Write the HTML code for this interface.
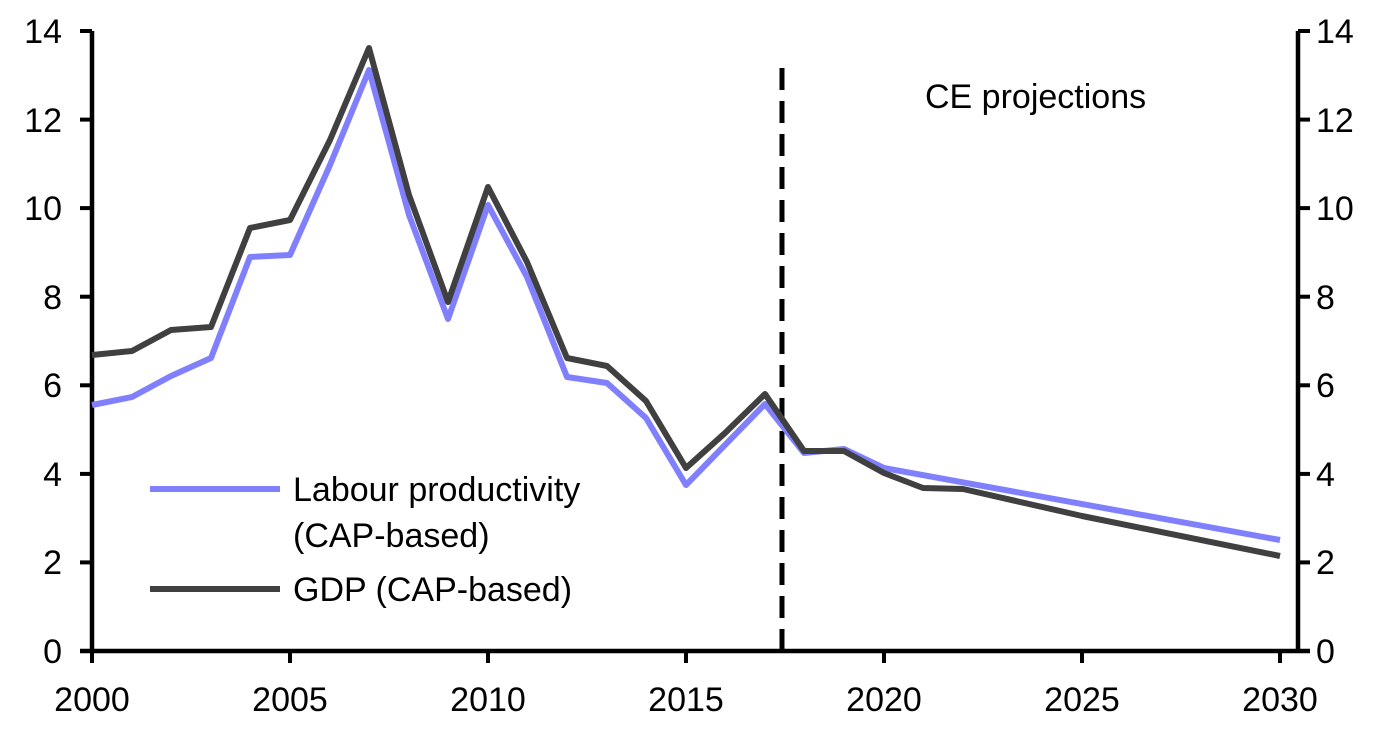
<!DOCTYPE html>
<html><head><meta charset="utf-8"><style>
html,body{margin:0;padding:0;background:#fff;}
svg text{font-family:"Liberation Sans",sans-serif;font-size:34px;fill:#000;}
</style></head><body>
<svg width="1394" height="738" viewBox="0 0 1394 738">
<g stroke="#000" stroke-width="4.5" fill="none">
<line x1="92" y1="31" x2="92" y2="653"/>
<line x1="1298" y1="31" x2="1298" y2="653"/>
<line x1="80" y1="651" x2="1310" y2="651"/>
</g>
<g stroke="#000" stroke-width="4">
<line x1="80" y1="31" x2="92" y2="31"/><line x1="80" y1="119.6" x2="92" y2="119.6"/><line x1="80" y1="208.1" x2="92" y2="208.1"/><line x1="80" y1="296.7" x2="92" y2="296.7"/><line x1="80" y1="385.3" x2="92" y2="385.3"/><line x1="80" y1="473.9" x2="92" y2="473.9"/><line x1="80" y1="562.4" x2="92" y2="562.4"/>
<line x1="1298" y1="31" x2="1310" y2="31"/><line x1="1298" y1="119.6" x2="1310" y2="119.6"/><line x1="1298" y1="208.1" x2="1310" y2="208.1"/><line x1="1298" y1="296.7" x2="1310" y2="296.7"/><line x1="1298" y1="385.3" x2="1310" y2="385.3"/><line x1="1298" y1="473.9" x2="1310" y2="473.9"/><line x1="1298" y1="562.4" x2="1310" y2="562.4"/>
<line x1="92" y1="651" x2="92" y2="663"/><line x1="290" y1="651" x2="290" y2="663"/><line x1="488" y1="651" x2="488" y2="663"/><line x1="686" y1="651" x2="686" y2="663"/><line x1="884" y1="651" x2="884" y2="663"/><line x1="1082" y1="651" x2="1082" y2="663"/><line x1="1280" y1="651" x2="1280" y2="663"/>
</g>
<g text-anchor="end">
<text x="62" y="43">14</text><text x="62" y="132">12</text><text x="62" y="220">10</text><text x="62" y="309">8</text><text x="62" y="397">6</text><text x="62" y="486">4</text><text x="62" y="574">2</text><text x="62" y="663">0</text>
</g>
<g text-anchor="start">
<text x="1316" y="43">14</text><text x="1316" y="132">12</text><text x="1316" y="220">10</text><text x="1316" y="309">8</text><text x="1316" y="397">6</text><text x="1316" y="486">4</text><text x="1316" y="574">2</text><text x="1316" y="663">0</text>
</g>
<g text-anchor="middle">
<text x="92" y="711">2000</text><text x="290" y="711">2005</text><text x="488" y="711">2010</text><text x="686" y="711">2015</text><text x="884" y="711">2020</text><text x="1082" y="711">2025</text><text x="1280" y="711">2030</text>
</g>
<line x1="782" y1="68" x2="782" y2="651" stroke="#000" stroke-width="5" stroke-dasharray="22,11"/>
<text x="925" y="108">CE projections</text>
<polyline fill="none" stroke="#8080ff" stroke-width="6" stroke-linejoin="round" points="92,405 132,397 171,376 211,358 250,257 290,255 330,165 369,70 409,215 448,319 488,205 527,277 567,377 607,383 646,418 686,485 725,445 765,404 804,453 844,449 884,468 1280,540"/>
<polyline fill="none" stroke="#404040" stroke-width="6" stroke-linejoin="round" points="92,355 132,351 171,330 211,327 250,228 290,220 330,140 369,48 409,195 448,302 488,187 527,262 567,358 607,366 646,401 686,468 725,433 765,394 804,451 844,451 884,473 923,488 963,489 1082,516 1280,556"/>
<line x1="150" y1="489" x2="280" y2="489" stroke="#8080ff" stroke-width="6"/>
<line x1="150" y1="589" x2="280" y2="589" stroke="#404040" stroke-width="6"/>
<text x="293" y="501">Labour productivity</text>
<text x="293" y="547">(CAP-based)</text>
<text x="293" y="601">GDP (CAP-based)</text>
</svg>
</body></html>
